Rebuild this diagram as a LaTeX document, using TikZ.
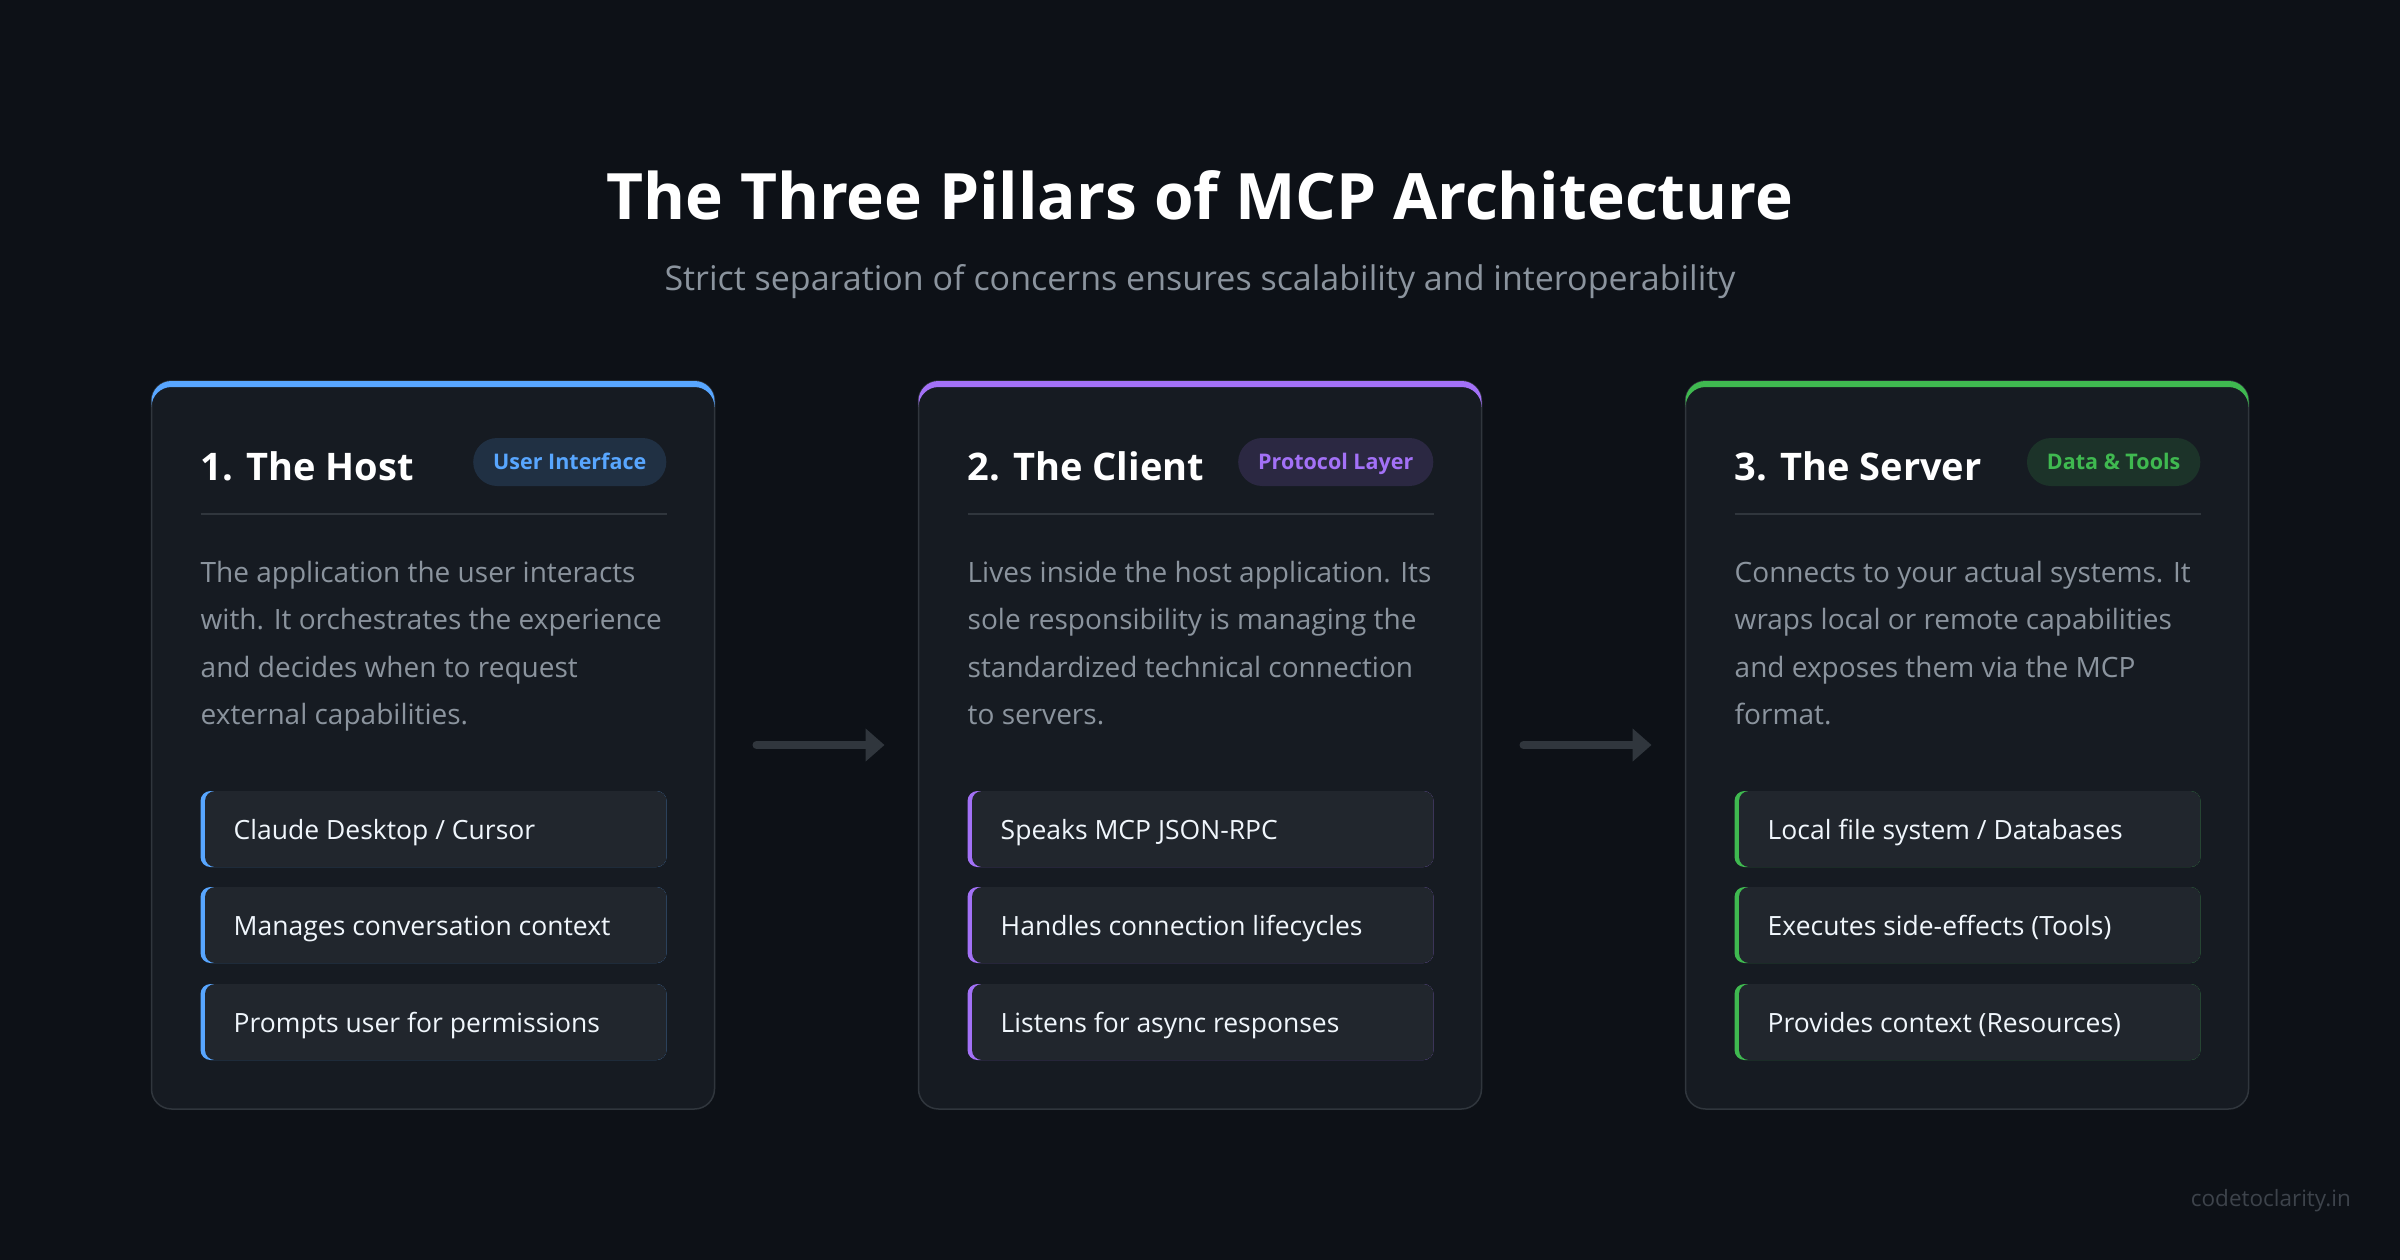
\documentclass[tikz,border=0pt]{standalone}
\usepackage{fontspec}
\setmainfont{Open Sans}
\usetikzlibrary{arrows.meta}
\definecolor{bg}{HTML}{0D1117}
\definecolor{cardbg}{HTML}{161B22}
\definecolor{cardborder}{HTML}{30363D}
\definecolor{itembg}{HTML}{21262D}
\definecolor{muted}{HTML}{8B949E}
\definecolor{itemfg}{HTML}{F0F6FC}
\definecolor{accblue}{HTML}{58A6FF}
\definecolor{accpurple}{HTML}{A371F7}
\definecolor{accgreen}{HTML}{3FB950}
\definecolor{arrowc}{HTML}{30363D}
\definecolor{mark}{HTML}{3D434B}

\newcommand\pillar[5]{%
  \node[cardbox] (#1) at (#2,745) {};
  \fill[#3] ({#2-281.5},401) arc[start angle=180,end angle=270,radius=20]
     -- ({#2+261.5},381) arc[start angle=270,end angle=360,radius=20]
     -- ({#2+281.5},407) arc[start angle=0,end angle=-90,radius=20]
     -- ({#2-261.5},387) arc[start angle=270,end angle=180,radius=20] -- cycle;
  \node[headtext] (#1head) at ({#2-232.5},480) {#4};
  \node[badgebox, fill=#3!15!cardbg, text=#3] (#1badge) at ({#2+233.5},462) {#5};
  \coordinate (#1dl) at ({#2-232.5},514);
  \coordinate (#1dr) at ({#2+233.5},514);
  \draw[cardborder, line width=2pt] (#1dl) -- (#1dr);
}
\newcommand\pdesc[6]{%
  \node[desctext] (#1d1) at ({#2-232.5},582) {#3};
  \node[desctext] (#1d2) at ({#2-232.5},629.5) {#4};
  \node[desctext] (#1d3) at ({#2-232.5},677) {#5};
  \node[desctext] (#1d4) at ({#2-232.5},724.5) {#6};
}
\newcommand\pitem[5]{% name, cx, center y, accent, text
  \fill[#4, rounded corners=10pt] ({#2-232.5},{#3-38}) rectangle ({#2+233.5},{#3+38});
  \node[itembox] (#1) at ({#2+2.75},#3) {};
  \node[itemtext] (#1t) at ({#2-199.5},{#3+10}) {#5};
}

\begin{document}
\begin{tikzpicture}[x=1pt,y=-1pt,
  cardbox/.style={rectangle, rounded corners=20pt, fill=cardbg, draw=cardborder,
    line width=1.5pt, minimum width=563pt, minimum height=728pt, inner sep=0pt, outer sep=0pt},
  badgebox/.style={rectangle, rounded corners=24pt, minimum height=48pt, inner xsep=20pt,
    inner ysep=0pt, text height=15.5pt, text depth=0pt, anchor=east,
    font=\fontsize{21.5}{26}\selectfont\bfseries},
  headtext/.style={anchor=base west, inner sep=0pt, text=white,
    font=\fontsize{38}{46}\selectfont\bfseries},
  desctext/.style={anchor=base west, inner sep=0pt, text=muted,
    font=\fontsize{28}{34}\selectfont},
  itembox/.style={rectangle, rounded corners=10pt, fill=itembg, minimum width=461.5pt,
    minimum height=76pt, inner sep=0pt, outer sep=0pt},
  itemtext/.style={anchor=base west, inner sep=0pt, text=itemfg,
    font=\fontsize{26.5}{32}\selectfont},
  flow/.style={draw=arrowc, line width=8pt, line cap=round,
    -{Triangle[length=19pt,width=32pt]}},
]
\fill[bg] (0,0) rectangle (2400,1260);
\useasboundingbox (0,0) rectangle (2400,1260);

\node[anchor=base, inner sep=0pt, text=white, font=\fontsize{64}{76}\selectfont\bfseries]
  (title) at (1200,219) {The Three Pillars of MCP Architecture};
\node[anchor=base, inner sep=0pt, text=muted, font=\fontsize{34}{40}\selectfont]
  (subtitle) at (1200,290) {Strict separation of concerns ensures scalability and interoperability};

\pillar{host}{433}{accblue}{1. The Host}{User Interface}
\pdesc{host}{433}{The application the user interacts}{with. It orchestrates the experience}{and decides when to request}{external capabilities.}
\pitem{hosti1}{433}{829}{accblue}{Claude Desktop / Cursor}
\pitem{hosti2}{433}{925}{accblue}{Manages conversation context}
\pitem{hosti3}{433}{1022}{accblue}{Prompts user for permissions}

\pillar{client}{1200}{accpurple}{2. The Client}{Protocol Layer}
\pdesc{client}{1200}{Lives inside the host application. Its}{sole responsibility is managing the}{standardized technical connection}{to servers.}
\pitem{clienti1}{1200}{829}{accpurple}{Speaks MCP JSON-RPC}
\pitem{clienti2}{1200}{925}{accpurple}{Handles connection lifecycles}
\pitem{clienti3}{1200}{1022}{accpurple}{Listens for async responses}

\pillar{server}{1967}{accgreen}{3. The Server}{Data \& Tools}
\pdesc{server}{1967}{Connects to your actual systems. It}{wraps local or remote capabilities}{and exposes them via the MCP}{format.}
\pitem{serveri1}{1967}{829}{accgreen}{Local file system / Databases}
\pitem{serveri2}{1967}{925}{accgreen}{Executes side-effects (Tools)}
\pitem{serveri3}{1967}{1022}{accgreen}{Provides context (Resources)}

\draw[flow] ([xshift=42pt]host.east) -- ([xshift=-34pt]client.west);
\draw[flow] ([xshift=42pt]client.east) -- ([xshift=-34pt]server.west);

\node[anchor=base east, inner sep=0pt, text=mark, font=\fontsize{22.5}{27}\selectfont]
  (wm) at (2351,1206) {codetoclarity.in};
\end{tikzpicture}
\end{document}
